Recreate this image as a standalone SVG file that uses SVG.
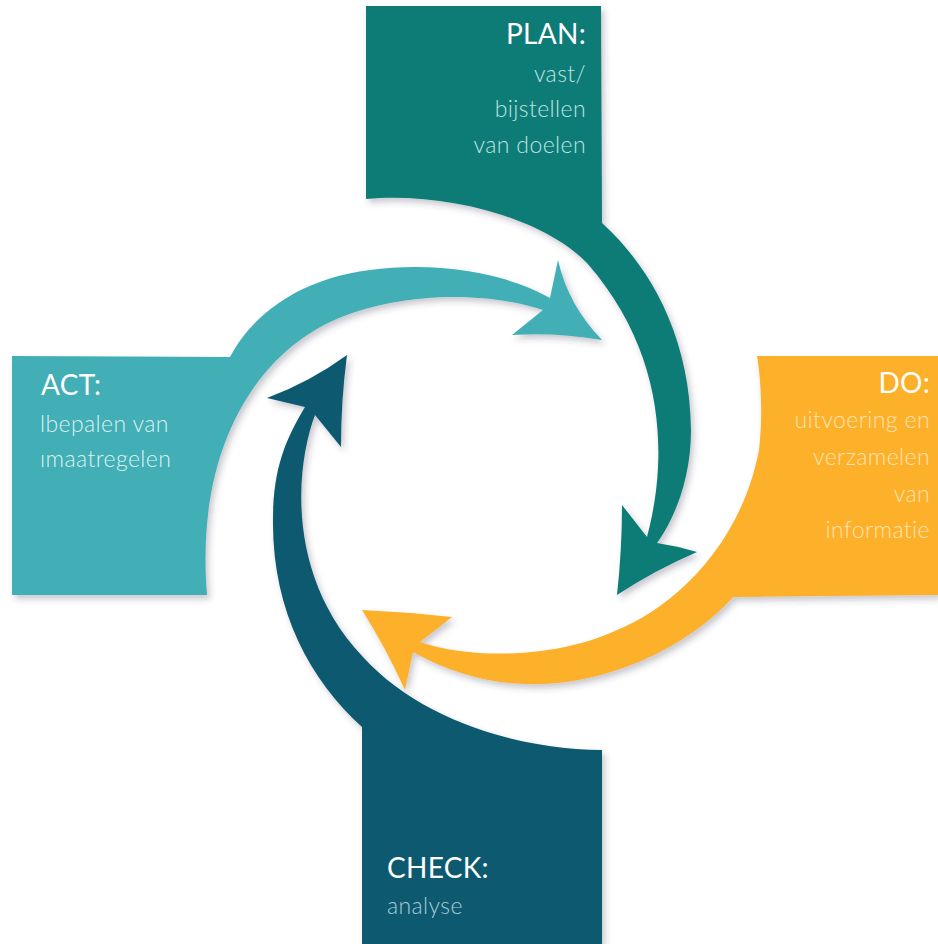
<svg xmlns="http://www.w3.org/2000/svg" width="938" height="944" viewBox="0 0 938 944">
  <defs>
    <filter id="sh" x="-10%" y="-10%" width="125%" height="125%">
      <feDropShadow dx="3" dy="4" stdDeviation="3" flood-color="#3a3550" flood-opacity="0.28"/>
    </filter>
  </defs>
  <style>
    .shape { filter: url(#sh); }
    .plan { fill: #0b7b77; }
    .act { fill: #43aeb5; }
    .do { fill: #fdb02b; }
    .check { fill: #0a5a70; }
    .head { font-family: Lato, "Noto Sans", "Liberation Sans", sans-serif; font-size: 28px; font-weight: 400; fill: #ffffff; letter-spacing: 0.3px; }
    .body { font-family: Lato, "Noto Sans", "Liberation Sans", sans-serif; font-size: 23px; font-weight: 300; letter-spacing: 0.4px; }
    .tplan { fill: #bfe3e0; }
    .tact { fill: #dcf2f4; }
    .tdo { fill: #fee4b3; }
    .tcheck { fill: #a9cad4; }
    .end { text-anchor: end; }
  </style>
  <rect width="938" height="944" fill="#ffffff"/>

  <g id="connectors"></g>

  <g id="plan">
    <path class="shape plan" d="M366,6 L601,6 L602,223 C645,262 690,330 691,430 C691,475 677,515 657,543 Q677,546 697,552 Q655,570 617,595 Q622,550 622,505 L647,537 C665,470 672,360 587,263 C540,215 440,192 366,199 Z"/>
    <text class="head end" x="586" y="44">PLAN:</text>
    <text class="body tplan end" x="586" y="82">vast/</text>
    <text class="body tplan end" x="586" y="117">bijstellen</text>
    <text class="body tplan end" x="586" y="153">van doelen</text>
  </g>

  <g id="do">
    <path class="shape do" d="M757,356 L938,356 L938,595 L733,597 C695,640 620,682 540,684 C490,686 445,670 413,652 L405,690 Q386,648 362,610 Q407,612 452,617 L420,642 C480,662 565,655 617,630 C668,610 740,550 759,450 C763,415 761,380 757,356 Z"/>
    <text class="head end" x="930" y="393">DO:</text>
    <text class="body tdo end" x="930" y="428">uitvoering en</text>
    <text class="body tdo end" x="930" y="465">verzamelen</text>
    <text class="body tdo end" x="930" y="502">van</text>
    <text class="body tdo end" x="930" y="538">informatie</text>
  </g>

  <g id="check">
    <path class="shape check" d="M362,944 L362,727 C310,680 272,610 273,520 C273,470 285,440 305,407 L267,398 Q310,382 347,355 Q341,400 341,447 L315,415 C296,465 285,575 363,657 C420,720 520,750 602,750 L602,944 Z"/>
    <text class="head" x="387" y="878">CHECK:</text>
    <text class="body tcheck" x="387" y="914">analyse</text>
  </g>

  <g id="act">
    <path class="shape act" d="M12,356 L230,357 C255,310 305,278 370,270 C430,262 500,270 550,298 L558,260 Q568,305 602,340 Q555,332 512,335 L543,310 C490,292 400,290 330,322 C255,358 195,450 207,595 L12,595 Z"/>
    <text class="head" x="41" y="395">ACT:</text>
    <text class="body tact" x="40" y="432">lbepalen van</text>
    <text class="body tact" x="40" y="467">ımaatregelen</text>
  </g>
</svg>
